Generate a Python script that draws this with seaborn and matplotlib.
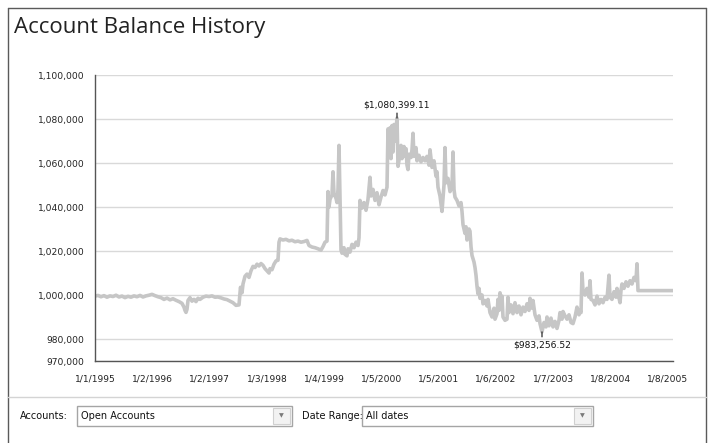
import numpy as np
import pandas as pd
import matplotlib
matplotlib.use("Agg")
import matplotlib.pyplot as plt
import matplotlib.patches as mpatches
import matplotlib.lines as mlines
import seaborn as sns

# ----------------------------
# DATA
# ----------------------------
# x = weeks since 1/1/1995 (roughly), balance in thousands of dollars
week = [
    0, 3, 6, 9, 12, 15, 18, 21, 24, 27, 30, 33, 36, 39, 42, 45, 48, 51, 54, 57,
    60, 63, 66, 69, 72, 75, 78, 81, 84, 87, 89, 90, 91, 92, 93, 95, 97, 99, 101, 103,
    105, 108, 111, 114, 117, 120, 123, 126, 129, 132, 135, 138, 141, 144, 145.5, 147, 148, 150, 152, 154,
    156, 158, 160, 162, 164, 166, 168, 170, 172, 174, 175, 177, 179, 181, 183, 184, 185, 188, 191, 194,
    197, 200, 203, 206, 209, 212, 214, 217, 220, 223, 226, 228, 230, 232, 233, 234, 235, 237, 238, 239,
    241, 242, 243, 244, 245, 246, 247, 249, 250, 252, 253, 255, 257, 259, 261, 263, 264, 265, 267, 269,
    271, 273, 275, 276, 278, 280, 282, 284, 286, 288, 290, 292, 293, 294, 295, 296, 297, 298, 299, 300,
    302, 303, 305, 306, 307, 309, 310, 311, 312, 313, 314, 316, 317, 318, 319, 321, 322, 324, 326, 328,
    330, 332, 334, 335, 337, 339, 341, 342, 343, 345, 347, 348, 349, 350, 351, 353, 355, 357, 358, 359,
    360, 362, 364, 366, 367, 368, 370, 371, 372, 374, 375, 376, 377, 379, 380, 381, 382, 383, 384, 385,
    387, 388, 390, 392, 393, 395, 397, 399, 400, 402, 403, 404, 405, 406, 407, 408, 410, 412, 413, 414,
    416, 418, 420, 422, 424, 426, 428, 430, 432, 434, 435, 437, 438, 440, 442, 444, 445, 447, 449, 451,
    452, 454, 456, 458, 460, 462, 464, 465, 467, 468, 470, 472, 474, 476, 478, 480, 482, 484, 485, 486,
    487, 488, 490, 492, 494, 495, 496, 498, 500, 502, 504, 506, 508, 510, 512, 514, 515, 517, 519, 521,
    522, 524, 525, 526, 527, 529, 531, 533, 535, 537, 539, 541, 542, 543, 545, 578,
]
balance_k = [
    999.5, 999.8, 999.2, 999.7, 999.0, 999.6, 999.3, 999.9, 999.1, 999.5, 998.8, 999.4, 999.0, 999.6, 999.2, 999.8, 999.1, 999.6, 999.9, 1000.3,
    999.7, 999.2, 998.8, 998.0, 998.6, 997.8, 998.3, 997.6, 997.0, 996.2, 994.5, 993.0, 992.1, 993.5, 997.5, 998.8, 997.2, 998.0, 997.0, 998.5,
    998.0, 999.0, 999.5, 999.3, 999.6, 999.0, 999.1, 998.7, 998.2, 997.9, 997.2, 996.5, 995.3, 995.5, 1003.5, 1001.0, 1005.0, 1008.5, 1009.5, 1008.0,
    1011.0, 1013.0, 1012.5, 1014.0, 1013.2, 1014.3, 1013.5, 1012.0, 1011.0, 1010.0, 1012.0, 1011.5, 1014.0, 1015.5, 1015.8, 1024.0, 1025.5, 1025.0, 1025.3, 1024.6,
    1024.9, 1024.2, 1024.5, 1024.0, 1024.3, 1024.8, 1022.5, 1021.8, 1021.5, 1021.0, 1020.4, 1022.0, 1024.0, 1024.5, 1047.0, 1040.0, 1043.5, 1045.5, 1056.0, 1046.0,
    1044.0, 1042.0, 1048.0, 1068.0, 1045.0, 1020.5, 1019.0, 1021.5, 1018.5, 1017.8, 1021.0, 1019.5, 1023.0, 1021.5, 1024.0, 1022.5, 1026.0, 1043.0, 1039.5, 1042.0,
    1038.5, 1043.5, 1053.5, 1045.0, 1048.0, 1043.0, 1046.5, 1041.0, 1044.5, 1047.5, 1045.5, 1049.0, 1075.5, 1066.0, 1076.0, 1062.0, 1077.0, 1065.0, 1077.5, 1070.0,
    1080.39911, 1058.5, 1064.0, 1068.0, 1062.0, 1067.5, 1063.0, 1066.5, 1059.0, 1057.0, 1064.0, 1062.5, 1066.0, 1073.5, 1063.0, 1067.0, 1061.0, 1063.5, 1060.5, 1062.5,
    1061.0, 1063.0, 1059.0, 1066.0, 1058.0, 1061.0, 1054.0, 1056.0, 1049.0, 1045.0, 1038.0, 1044.0, 1050.0, 1067.0, 1051.0, 1053.0, 1047.0, 1049.0, 1065.0, 1048.0,
    1044.5, 1043.0, 1040.5, 1042.0, 1038.0, 1032.0, 1028.0, 1031.0, 1025.0, 1030.0, 1029.0, 1022.0, 1018.0, 1015.0, 1012.5, 1009.0, 1004.0, 1000.5, 1003.0, 998.5,
    1000.0, 996.0, 997.5, 995.0, 998.0, 992.0, 990.0, 994.0, 989.0, 991.5, 998.0, 993.0, 1001.0, 996.0, 999.5, 990.0, 988.5, 989.0, 999.0, 992.0,
    995.5, 991.5, 996.5, 992.0, 995.0, 991.0, 994.5, 992.5, 996.0, 993.0, 998.5, 994.0, 997.5, 991.0, 988.5, 990.5, 987.0, 983.25652, 987.5, 985.5,
    990.0, 986.0, 989.5, 985.5, 988.0, 984.8, 988.5, 992.0, 989.0, 992.5, 990.5, 989.0, 991.0, 987.5, 987.0, 990.0, 994.5, 991.0, 993.0, 992.0,
    1010.0, 1002.0, 1000.0, 1003.0, 999.0, 1006.5, 998.0, 997.5, 995.5, 999.5, 996.0, 998.0, 996.5, 999.0, 998.0, 1009.0, 999.0, 998.0, 1001.5, 999.0,
    1003.0, 998.5, 996.5, 1002.0, 1005.0, 1003.0, 1006.0, 1004.0, 1006.5, 1005.0, 1008.0, 1006.5, 1014.2, 1002.0, 1002.0, 1002.0,
]
tick_labels = ["1/1/1995", "1/2/1996", "1/2/1997", "1/3/1998", "1/4/1999", "1/5/2000",
               "1/5/2001", "1/6/2002", "1/7/2003", "1/8/2004", "1/8/2005"]
y_ticks = [970000, 980000, 1000000, 1020000, 1040000, 1060000, 1080000, 1100000]

df = pd.DataFrame({"week": week, "balance": np.array(balance_k) * 1000})

# ----------------------------
# FIGURE
# ----------------------------
sns.set_style("white")
plt.rcParams["font.family"] = ["DejaVu Sans"]

W, H = 714, 443
fig = plt.figure(figsize=(W / 100, H / 100), dpi=100)

# outer frame of the panel
fig.add_artist(mlines.Line2D([8 / W, 8 / W], [0, 1 - 8 / H], color="#5a5a5a", lw=1))
fig.add_artist(mlines.Line2D([8 / W, 706 / W], [1 - 8 / H, 1 - 8 / H], color="#5a5a5a", lw=1))
fig.add_artist(mlines.Line2D([706 / W, 706 / W], [0, 1 - 8 / H], color="#5a5a5a", lw=1))

fig.text(14 / W, 1 - 28 / H, "Account Balance History", fontsize=16, family="Open Sans",
         color="#222222", va="center", ha="left")

ax = fig.add_axes([95 / W, 1 - 361 / H, (673 - 95) / W, (361 - 75) / H])
sns.lineplot(data=df, x="week", y="balance", ax=ax, color="#c6c6c6", linewidth=2.6,
             estimator=None, sort=False)

ax.set_xlim(0, 578)
ax.set_ylim(970000, 1100000)
ax.set_xticks(np.linspace(0, 573, 11))
ax.set_xticklabels(tick_labels)
ax.set_yticks(y_ticks)
ax.set_yticklabels([f"{v:,}" for v in y_ticks])
ax.set_xlabel("")
ax.set_ylabel("")
for v in y_ticks:
    ax.axhline(v, color="#d9d9d9", lw=1, zorder=0)
ax.tick_params(direction="inout", length=7, width=1, color="#444444",
               labelsize=6.6, labelcolor="#222222", pad=4)
ax.tick_params(axis="x", pad=6)
sns.despine(ax=ax)
for s in ["left", "bottom"]:
    ax.spines[s].set_color("#555555")
    ax.spines[s].set_linewidth(1)

# max / min callouts
i_max = df["balance"].idxmax()
i_min = df["balance"].idxmin()
ax.annotate(f"${df.balance[i_max]:,.2f}", (df.week[i_max], df.balance[i_max]),
            xytext=(0, 6), textcoords="offset points", ha="center", va="bottom",
            fontsize=6.6, color="#111111",
            arrowprops=dict(arrowstyle="-", color="#111111", lw=0.8, shrinkA=0, shrinkB=0))
ax.annotate(f"${df.balance[i_min]:,.2f}", (df.week[i_min], df.balance[i_min]),
            xytext=(0, -6), textcoords="offset points", ha="center", va="top",
            fontsize=6.6, color="#111111",
            arrowprops=dict(arrowstyle="-", color="#111111", lw=0.8, shrinkA=0, shrinkB=0))

# ----------------------------
# BOTTOM CONTROLS
# ----------------------------
sep_y = 1 - 397 / H
fig.add_artist(mlines.Line2D([8 / W, 706 / W], [sep_y, sep_y], color="#d4d4d4", lw=1))

box_top, box_bot = 406, 426
box_mid = 1 - (box_top + box_bot) / 2 / H


def combo(x0, x1, label):
    fig.add_artist(mpatches.Rectangle((x0 / W, 1 - box_bot / H), (x1 - x0) / W,
                                      (box_bot - box_top) / H, fill=False,
                                      edgecolor="#a5a5a5", lw=1))
    fig.add_artist(mpatches.Rectangle(((x1 - 19) / W, 1 - (box_bot - 2) / H), 17 / W,
                                      (box_bot - box_top - 4) / H, facecolor="#f2f2f2",
                                      edgecolor="#d0d0d0", lw=0.8))
    fig.text((x1 - 10.5) / W, box_mid, "\u25bc", fontsize=4.5, color="#7a7a7a",
             ha="center", va="center")
    fig.text((x0 + 4) / W, box_mid, label, fontsize=7, color="#111111",
             ha="left", va="center")


fig.text(20 / W, box_mid, "Accounts:", fontsize=7, color="#111111", ha="left", va="center")
combo(77, 292, "Open Accounts")
fig.text(302 / W, box_mid, "Date Range:", fontsize=7, color="#111111", ha="left", va="center")
combo(362, 593, "All dates")

fig.savefig("out.png", dpi=100)
